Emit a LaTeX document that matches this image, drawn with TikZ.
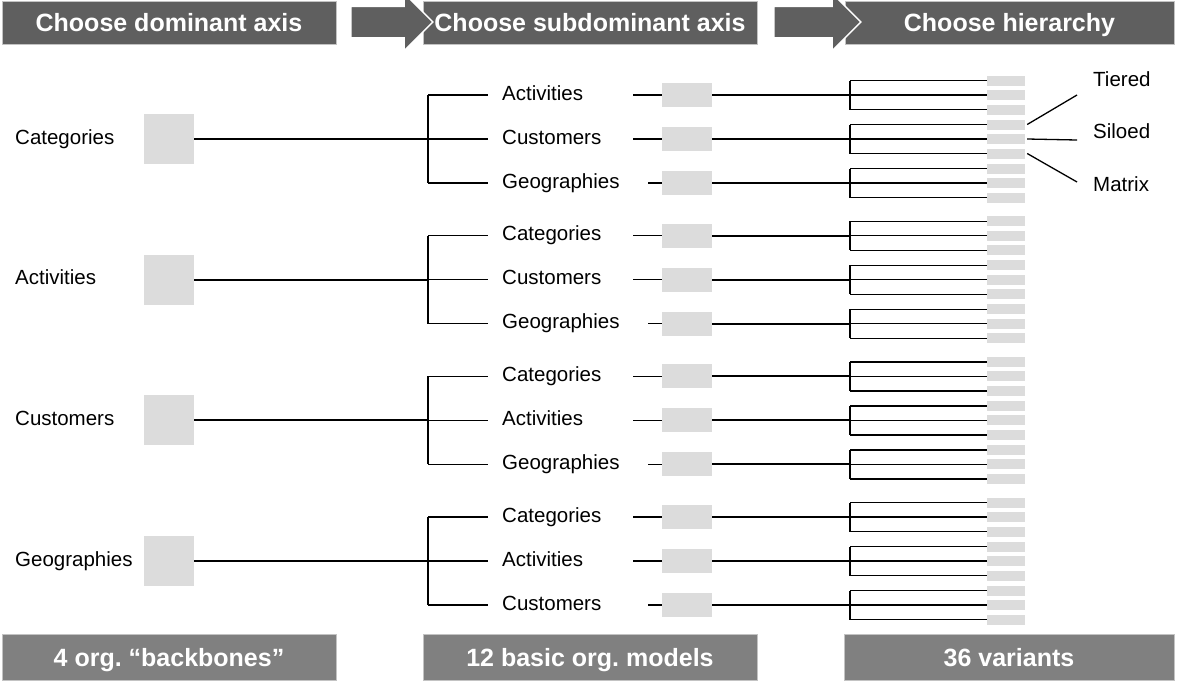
\documentclass[tikz,border=0pt]{standalone}
\usepackage{fontspec}
\setmainfont{Liberation Sans}
\usetikzlibrary{shapes.arrows,positioning,calc}
\definecolor{headgray}{RGB}{95,95,95}
\definecolor{footgray}{RGB}{128,128,128}
\definecolor{boxgray}{RGB}{220,220,220}
\definecolor{edgegray}{RGB}{195,195,195}
\frenchspacing

\begin{document}
\begin{tikzpicture}[
  x=1pt, y=-1pt,
  headbox/.style={
    draw=edgegray,
    fill=headgray,
    minimum width=334pt,
    minimum height=43pt,
    inner sep=0pt,
    text height=18pt,
    text depth=0pt,
    text=white,
    font=\bfseries\fontsize{25}{30}\selectfont
  },
  footbox/.style={headbox, fill=footgray, minimum height=46pt},
  steparrow/.style={
    single arrow,
    fill=headgray,
    draw=white,
    line width=1.5pt,
    inner xsep=0pt,
    inner ysep=15pt,
    single arrow head extend=13pt,
    minimum height=82pt
  },
  labeltext/.style={
    anchor=west,
    inner sep=0pt,
    text height=14.7pt,
    text depth=4.3pt,
    font=\fontsize{20.5}{24}\selectfont
  },
  bigsq/.style={fill=boxgray, minimum width=50pt, minimum height=50pt, inner sep=0pt},
  midsq/.style={fill=boxgray, minimum width=50pt, minimum height=24pt, inner sep=0pt},
  varsq/.style={fill=boxgray, minimum width=38pt, minimum height=10pt, inner sep=0pt},
  thinline/.style={line width=1.3pt},
  thickline/.style={line width=2pt}
]
\useasboundingbox (0,0) rectangle (1178,681);

% header and footer
\node [headbox] (headA) at (169,22.5) {Choose dominant axis};
\node [headbox] (headB) at (590,22.5) {Choose subdominant axis};
\node [headbox, minimum width=329pt] (headC) at (1009.5,22.5) {Choose hierarchy};
\node [steparrow] (arrowA) at (384,22) {};
\node [steparrow, minimum height=87pt] (arrowB) at (809.5,22) {};

\node [footbox] (footA) at (169,657) {4 org. “backbones”};
\node [footbox] (footB) at (590,657) {12 basic org. models};
\node [footbox, minimum width=330pt] (footC) at (1009,657) {36 variants};

% dominant axis, subdominant axis, hierarchy
\foreach \i/\name/\subs in {
  1/Categories/{Activities,Customers,Geographies},
  2/Activities/{Categories,Customers,Geographies},
  3/Customers/{Categories,Activities,Geographies},
  4/Geographies/{Categories,Activities,Customers}}{
  \pgfmathsetmacro{\gy}{139+140.7*(\i-1)}
  \node [labeltext] (dom\i) at (15,\gy) {\name};
  \node [bigsq] (domsq\i) at (169,\gy) {};
  \coordinate (trunk\i) at (428,\gy);
  \draw [thickline] (domsq\i.east) -- (trunk\i);
  \foreach \s [count=\j] in \subs {
    \pgfmathsetmacro{\ry}{\gy+44*(\j-2)}
    \pgfmathsetmacro{\lx}{\j==3 ? 648 : 633}
    \coordinate (br\i\j) at (488,\ry);
    \draw [thinline] (trunk\i |- br\i\j) -- (br\i\j);
    \node [labeltext] (sub\i\j) at (502,\ry) {\s};
    \node [midsq] (mid\i\j) at (687,\ry) {};
    \coordinate (lead\i\j) at (\lx,\ry);
    \draw [thinline] (lead\i\j) -- (mid\i\j.west);
    \coordinate (fork\i\j) at (850,\ry);
    \draw [thickline] (mid\i\j.east) -- (fork\i\j);
    \foreach \k in {1,2,3} {
      \node [varsq] (var\i\j\k) at (1006,\ry+14.5*\k-29) {};
      \draw [thinline] (fork\i\j |- var\i\j\k) -- (var\i\j\k.west);
    }
    \draw [thinline] (fork\i\j |- var\i\j1) -- (fork\i\j |- var\i\j3);
  }
  \draw [thinline] (trunk\i |- br\i1) -- (trunk\i |- br\i3);
}

% hierarchy types
\node [labeltext] (tiered) at (1093,81) {Tiered};
\node [labeltext] (siloed) at (1093,133) {Siloed};
\node [labeltext] (matrix) at (1093,186) {Matrix};
\coordinate (tieredend) at (1077,95);
\coordinate (siloedend) at (1077,140);
\coordinate (matrixend) at (1077,182);
\draw [thinline] ([xshift=2pt]var121.east) -- (tieredend);
\draw [thinline] ([xshift=2pt]var122.east) -- (siloedend);
\draw [thinline] ([xshift=2pt]var123.east) -- (matrixend);

\end{tikzpicture}
\end{document}
